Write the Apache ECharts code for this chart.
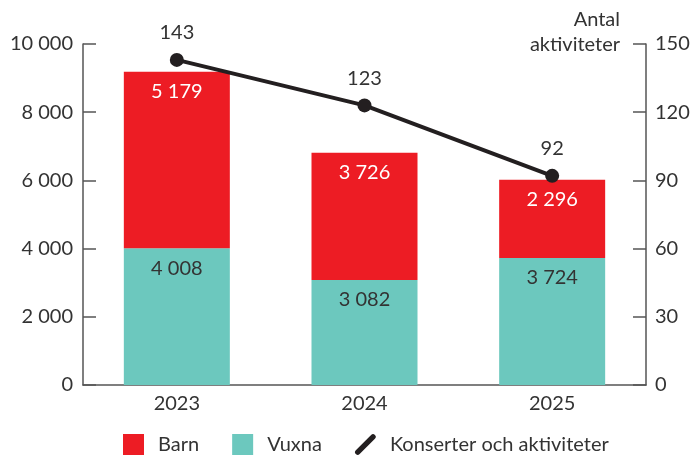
<!DOCTYPE html>
<html lang="sv">
<head>
<meta charset="UTF-8">
<title>Barn, vuxna och aktiviteter</title>
<style>
  html, body { margin: 0; padding: 0; background: #fff; }
  #chart { width: 696px; height: 455px; }
</style>
</head>
<body>
<div id="chart"></div>
<script src="https://cdn.jsdelivr.net/npm/echarts@6/dist/echarts.min.js"></script>
<script>
// data
const years = ['2023', '2024', '2025'];
const vuxna = [4008, 3082, 3724];
const barn = [5179, 3726, 2296];
const aktiviteter = [143, 123, 92];

const red = '#ED1C24';
const teal = '#6CC8BE';
const dark = '#231F20';
const axisCol = '#555';
const txt = '#333';
const font = 'Lato';

// thousands with a space: 10 000
function fmt(v) {
  return String(v).replace(/\B(?=(\d{3})+(?!\d))/g, ' ');
}

const chart = echarts.init(document.getElementById('chart'));

chart.setOption({
  animation: false,
  textStyle: { fontFamily: font, color: txt },
  grid: { left: 83, right: 50, top: 44, bottom: 70 },
  legend: {
    left: 123,
    top: 434,
    padding: 0,
    itemWidth: 21,
    itemHeight: 21,
    itemGap: 33,
    textStyle: { fontSize: 20, color: txt, fontFamily: font, padding: [0, 0, 0, 9] },
    data: [
      { name: 'Barn', icon: 'rect' },
      { name: 'Vuxna', icon: 'rect' },
      { name: 'Konserter och aktiviteter', icon: 'path://M0,18 L16,2 Q18,0 20,2 Q22,4 20,6 L4,22 Q2,24 0,22 Q-2,20 0,18 Z' }
    ]
  },
  xAxis: {
    type: 'category',
    data: years,
    axisTick: { show: false },
    axisLine: { lineStyle: { color: axisCol, width: 1.5 } },
    axisLabel: { fontSize: 20, color: txt, margin: 9 }
  },
  yAxis: [{
    type: 'value',
    min: 0,
    max: 10000,
    interval: 2000,
    splitLine: { show: false },
    axisLine: { show: true, lineStyle: { color: axisCol, width: 1.5 } },
    axisTick: { show: true, inside: true, length: 13, lineStyle: { color: axisCol, width: 1.5 } },
    axisLabel: { fontSize: 20, color: txt, margin: 10, formatter: fmt }
  }, {
    type: 'value',
    min: 0,
    max: 150,
    interval: 30,
    name: 'Antal\naktiviteter',
    nameLocation: 'end',
    nameGap: -13,
    nameTextStyle: {
      fontSize: 20, color: txt, align: 'right', verticalAlign: 'bottom',
      lineHeight: 25, padding: [0, 26, 0, 0]
    },
    splitLine: { show: false },
    axisLine: { show: true, lineStyle: { color: axisCol, width: 1.5 } },
    axisTick: { show: true, inside: true, length: 13, lineStyle: { color: axisCol, width: 1.5 } },
    axisLabel: { fontSize: 20, color: txt, margin: 9 }
  }],
  series: [{
    name: 'Vuxna',
    type: 'bar',
    stack: 'tot',
    barWidth: 106,
    data: vuxna,
    itemStyle: { color: teal },
    label: {
      show: true, position: 'insideTop', distance: 10,
      fontSize: 20, color: txt, fontFamily: font,
      formatter: p => fmt(p.value)
    }
  }, {
    name: 'Barn',
    type: 'bar',
    stack: 'tot',
    barWidth: 106,
    data: barn,
    itemStyle: { color: red },
    label: {
      show: true, position: 'insideTop', distance: 10,
      fontSize: 20, color: '#fff', fontFamily: font,
      formatter: p => fmt(p.value)
    }
  }, {
    name: 'Konserter och aktiviteter',
    type: 'line',
    yAxisIndex: 1,
    data: aktiviteter,
    symbol: 'circle',
    symbolSize: 14,
    itemStyle: { color: dark },
    lineStyle: { color: dark, width: 4 },
    label: {
      show: true, position: 'top', distance: 10,
      fontSize: 20, color: txt, fontFamily: font
    },
    z: 5
  }]
});
</script>
</body>
</html>
